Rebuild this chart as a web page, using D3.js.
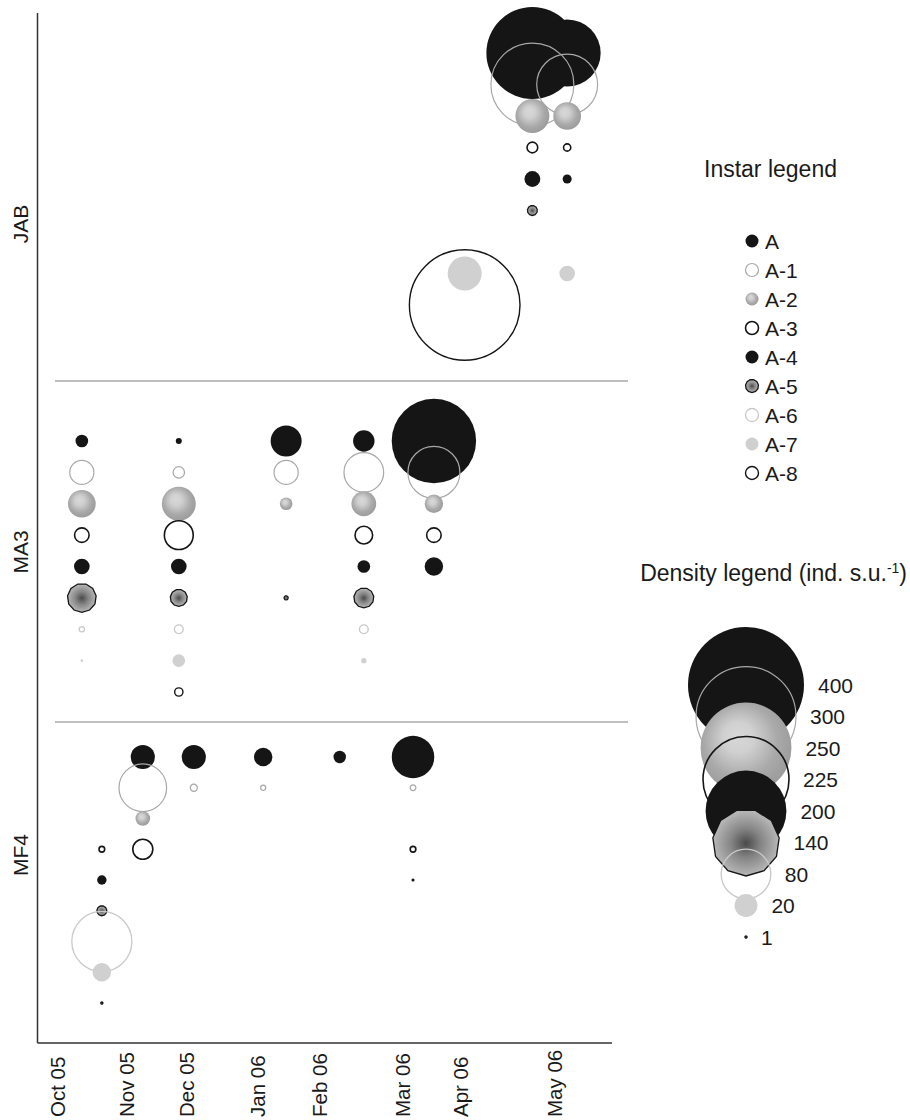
<!DOCTYPE html>
<html>
<head>
<meta charset="utf-8">
<script src="https://cdn.jsdelivr.net/npm/d3@7"></script>
<style>
  body { margin: 0; background: #fff; }
  text { font-family: "Liberation Sans", Arial, sans-serif; fill: #1a1a1a; }
</style>
</head>
<body>
<svg id="chart" width="910" height="1120"></svg>
<script>
// ---- data ----
const months = ["Oct 05", "Nov 05", "Dec 05", "Jan 06", "Feb 06", "Mar 06", "Apr 06", "May 06"];
const sites = ["JAB", "MA3", "MF4"];
const instars = ["A", "A-1", "A-2", "A-3", "A-4", "A-5", "A-6", "A-7", "A-8"];
const densityLegend = [400, 300, 250, 225, 200, 140, 80, 20, 1];

// sampling dates in month units (0 = Oct 05); one row per date, densities for A..A-8
const jabTimes = [6.05, 6.77, 7.14];
const jabValues = [
  [null, null, null, null, null, null, null, 40, 365],
  [256, 210, 40, 6, 11, 5.4, null, null, null],
  [140, 117, 28, 3.5, 4.7, null, null, 10.7, null]
];

const ma3Times = [0.36, 1.88, 3.47, 4.54, 5.55];
const ma3Values = [
  [7.7, 22, 28, 9.5, 10.7, 30, 2.4, 1.2, null],
  [2.8, 6.6, 40, 30, 10.7, 12.3, 4.6, 7.7, 4.2],
  [34, 22, 7.7, null, null, 1.8, null, null, null],
  [18, 53, 23, 13, 7.7, 16, 4.6, 2.4, null],
  [217, 87, 14, 9.5, 14, null, null, null, null]
];

const mf4Times = [0.65, 1.28, 2.11, 3.10, 4.25, 5.19];
const mf4Values = [
  [null, null, null, 2.6, 5, 5.4, 114, 14, 1],
  [22, 74, 9.6, 16, null, null, null, null, null],
  [22, 3.4, null, null, null, null, null, null, null],
  [14, 2.3, null, null, null, null, null, null, null],
  [7.5, null, null, null, null, null, null, null, null],
  [60, 2.6, null, 2.6, 1.4, null, null, null, null]
];

const siteData = {
  JAB: { times: jabTimes, values: jabValues },
  MA3: { times: ma3Times, values: ma3Values },
  MF4: { times: mf4Times, values: mf4Values }
};

// ---- layout ----
const axisLeft = 37.5;
const axisBottom = 1043;
const axisTop = 13;
const axisRight = 612;
const dividers = [381, 722];
const siteRows = { JAB: [53, 305], MA3: [441, 692], MF4: [757, 1003] };
const siteLabelY = { JAB: 224, MA3: 552, MF4: 855 };

const svg = d3.select("#chart");

const defs = svg.append("defs");
const gradA2 = defs.append("radialGradient").attr("id", "gradA2")
  .attr("cx", 0.46).attr("cy", 0.44).attr("r", 0.56).attr("fx", 0.4).attr("fy", 0.36);
[[0, "#d8d8d8"], [0.3, "#d0d0d0"], [0.52, "#bcbcbc"], [0.72, "#a9a9a9"], [1, "#9c9c9c"]]
  .forEach(([o, c]) => gradA2.append("stop").attr("offset", o).attr("stop-color", c));
const gradA5 = defs.append("radialGradient").attr("id", "gradA5")
  .attr("cx", 0.5).attr("cy", 0.5).attr("r", 0.5);
[[0, "#4a4a4a"], [0.45, "#858585"], [1, "#b8b8b8"]]
  .forEach(([o, c]) => gradA5.append("stop").attr("offset", o).attr("stop-color", c));

const styles = {
  "A":   { fill: "#151515", stroke: "none", sw: 0 },
  "A-1": { fill: "none", stroke: "#a8a8a8", sw: 1.2 },
  "A-2": { fill: "url(#gradA2)", stroke: "none", sw: 0 },
  "A-3": { fill: "none", stroke: "#151515", sw: 1.6 },
  "A-4": { fill: "#151515", stroke: "none", sw: 0 },
  "A-5": { fill: "url(#gradA5)", stroke: "#151515", sw: 1.3, poly: true },
  "A-6": { fill: "none", stroke: "#c9c9c9", sw: 1.3 },
  "A-7": { fill: "#d0d0d0", stroke: "none", sw: 0 },
  "A-8": { fill: "none", stroke: "#151515", sw: 1.4 }
};

// scales
const x = d3.scaleLinear()
  .domain(d3.range(months.length))
  .range([57, 126, 186, 257, 319, 402, 460, 554]);

const rScale = d3.scaleSqrt().domain([1, 400]).range([1, 58]).clamp(true);

const yScales = {};
sites.forEach(s => {
  yScales[s] = d3.scalePoint().domain(instars).range(siteRows[s]);
});

const polygon = (r) => {
  const n = 11;
  const pts = d3.range(n).map(i => [Math.PI / n + i * 2 * Math.PI / n, r]);
  return d3.lineRadial().curve(d3.curveLinearClosed)(pts);
};

function drawMark(g, instar, r) {
  const s = styles[instar];
  const el = s.poly
    ? g.append("path").attr("d", polygon(r))
    : g.append("circle").attr("r", r);
  el.attr("fill", s.fill).attr("stroke", s.stroke).attr("stroke-width", s.sw);
  return el;
}

// ---- axes and dividers ----
svg.append("line")
  .attr("x1", axisLeft).attr("x2", axisLeft)
  .attr("y1", axisTop).attr("y2", axisBottom)
  .attr("stroke", "#333").attr("stroke-width", 1.5);
svg.append("line")
  .attr("x1", axisLeft).attr("x2", axisRight)
  .attr("y1", axisBottom).attr("y2", axisBottom)
  .attr("stroke", "#333").attr("stroke-width", 1.5);

svg.selectAll(".divider")
  .data(dividers)
  .join("line")
  .attr("class", "divider")
  .attr("x1", 55).attr("x2", 628)
  .attr("y1", d => d).attr("y2", d => d)
  .attr("stroke", "#aaa").attr("stroke-width", 1.5);

const xAxis = svg.append("g")
  .attr("transform", `translate(0,${axisBottom})`)
  .call(d3.axisBottom(x).tickValues(d3.range(months.length)).tickFormat(i => months[i]).tickSize(0));
xAxis.select(".domain").remove();
xAxis.selectAll("text")
  .attr("transform", "rotate(-90)")
  .attr("x", -74)
  .attr("y", 0)
  .attr("dy", "0.35em")
  .attr("text-anchor", "start")
  .style("font-size", "20.5px")
  .style("font-family", "'Liberation Sans', Arial, sans-serif")
  .attr("fill", "#1a1a1a");

svg.selectAll(".site-label")
  .data(sites)
  .join("text")
  .attr("class", "site-label")
  .attr("transform", d => `translate(28,${siteLabelY[d]}) rotate(-90)`)
  .attr("text-anchor", "middle")
  .style("font-size", "21px")
  .text(d => d);

// ---- bubbles ----
const records = [];
sites.forEach(site => {
  const { times, values } = siteData[site];
  times.forEach((t, j) => {
    values[j].forEach((v, i) => {
      if (v != null) records.push({ site, t, instar: instars[i], idx: i, v });
    });
  });
});
records.sort((a, b) => a.idx - b.idx);

svg.append("g")
  .selectAll("g")
  .data(records)
  .join("g")
  .attr("transform", d => `translate(${x(d.t)},${yScales[d.site](d.instar)})`)
  .each(function (d) {
    drawMark(d3.select(this), d.instar, rScale(d.v));
  });

// ---- instar legend ----
svg.append("text")
  .attr("x", 704).attr("y", 177)
  .style("font-size", "23px")
  .text("Instar legend");

const instarY = d3.scalePoint().domain(instars).range([241, 473]);
const instarItems = svg.append("g")
  .selectAll("g")
  .data(instars)
  .join("g")
  .attr("transform", d => `translate(752,${instarY(d)})`);
instarItems.each(function (d) {
  drawMark(d3.select(this), d, 6.5);
});
instarItems.append("text")
  .attr("x", 13)
  .attr("dy", "0.36em")
  .style("font-size", "21px")
  .text(d => d);

// ---- density legend ----
const densTitle = svg.append("text")
  .attr("x", 907).attr("y", 581)
  .attr("text-anchor", "end")
  .style("font-size", "23px");
densTitle.append("tspan").text("Density legend (ind. s.u.");
densTitle.append("tspan").attr("dy", -8).style("font-size", "14px").text("-1");
densTitle.append("tspan").attr("dy", 8).text(")");

const densY = d3.scalePoint().domain(densityLegend).range([685, 937]);
const densItems = svg.append("g")
  .selectAll("g")
  .data(densityLegend)
  .join("g")
  .attr("transform", d => `translate(746,${densY(d)})`);
densItems.each(function (d, i) {
  drawMark(d3.select(this), instars[i], rScale(d));
});
densItems.append("text")
  .attr("x", d => rScale(d) + 14)
  .attr("dy", "0.36em")
  .style("font-size", "21px")
  .text(d => d);
</script>
</body>
</html>
